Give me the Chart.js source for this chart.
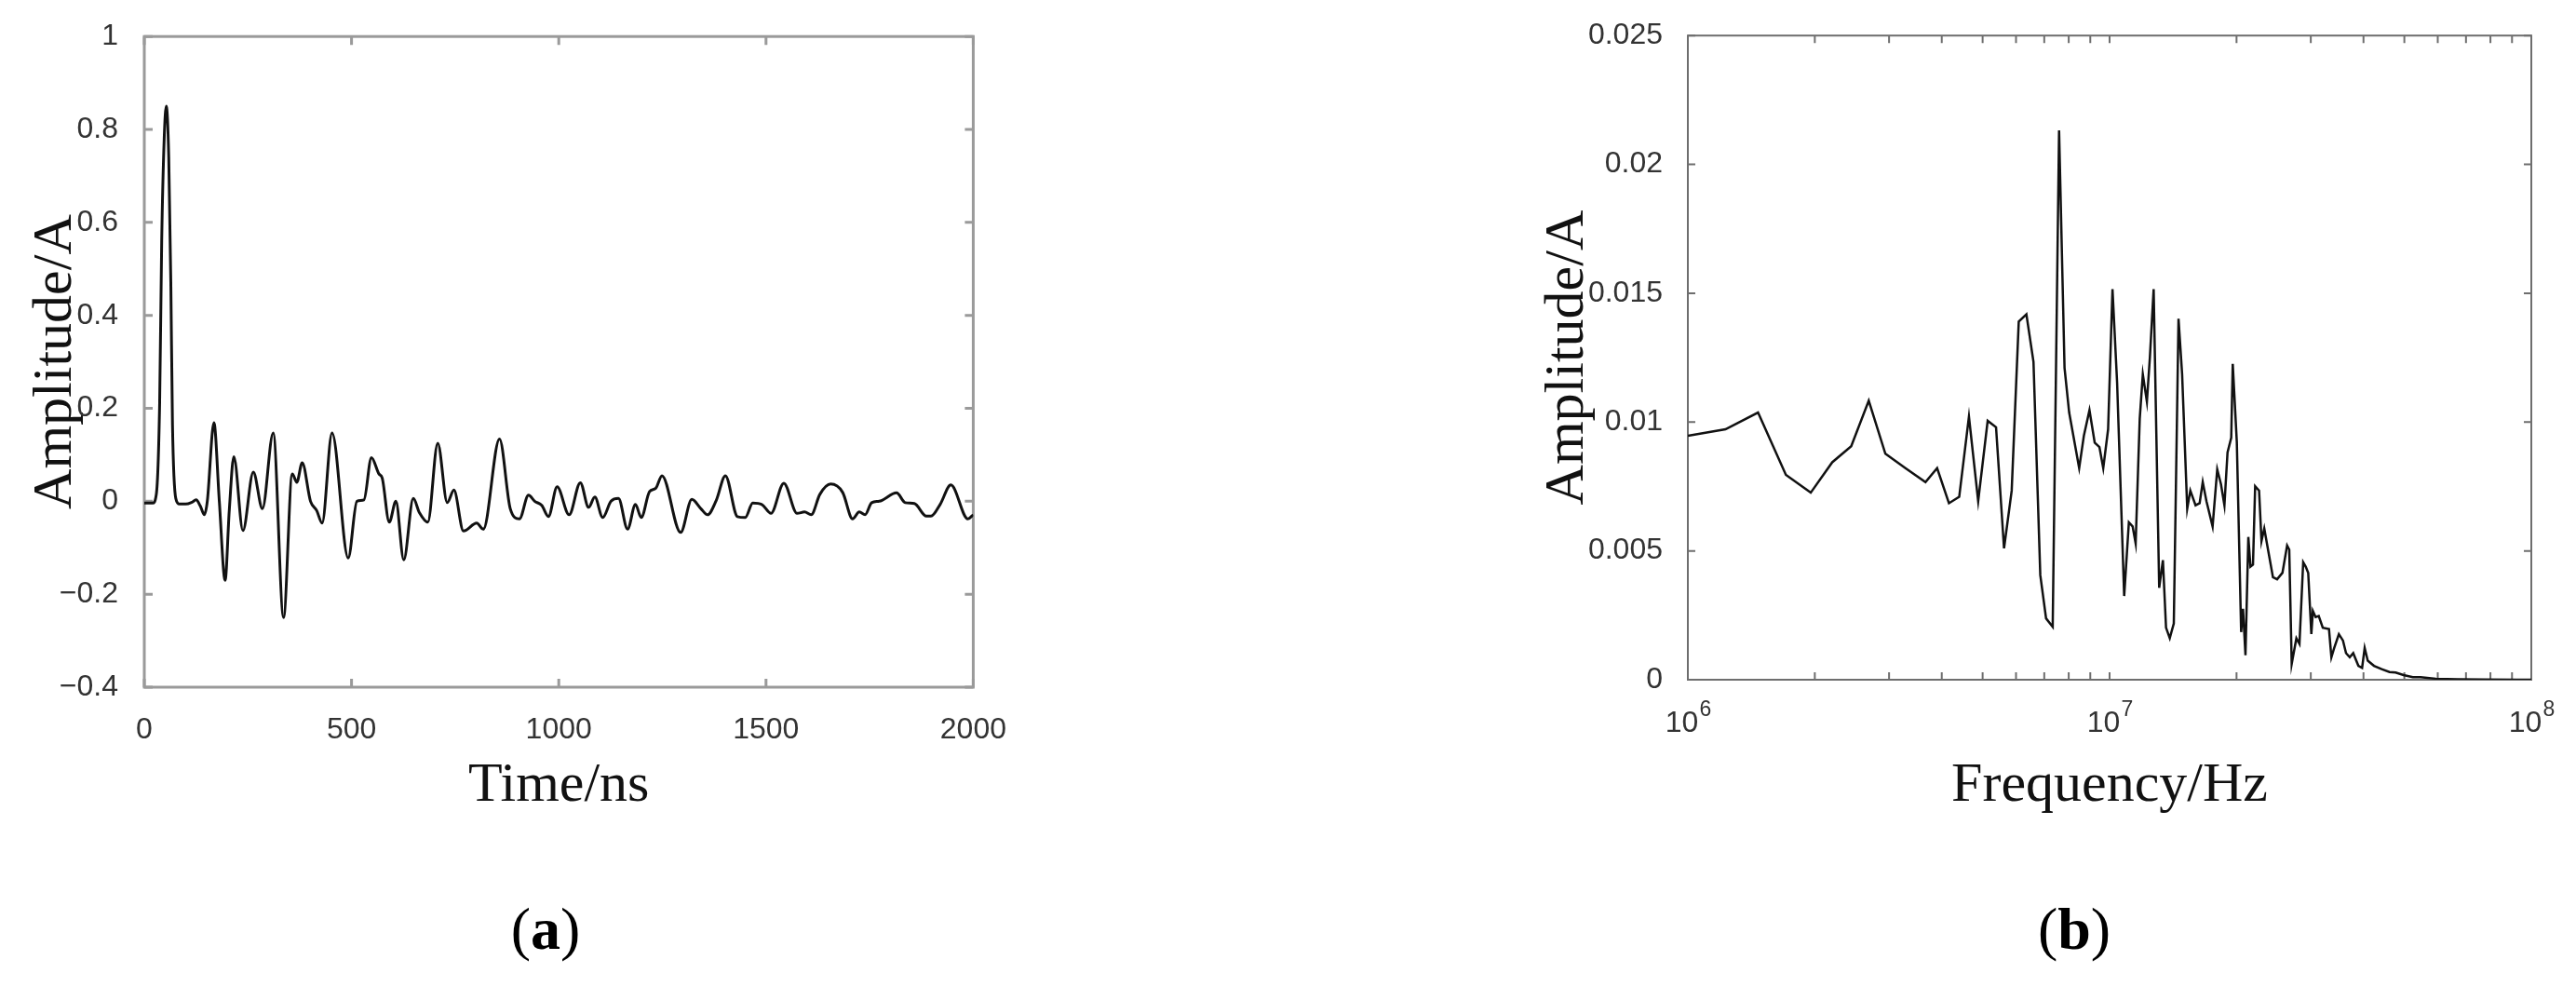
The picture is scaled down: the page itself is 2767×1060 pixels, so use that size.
<!DOCTYPE html>
<html>
<head>
<meta charset="utf-8">
<title>Current waveform and spectrum</title>
<script src="https://cdn.jsdelivr.net/npm/chart.js@4.4.1/dist/chart.umd.min.js"></script>
<style>
    html, body { margin: 0; padding: 0; background: #fff; }
    body { width: 2767px; height: 1060px; position: relative; overflow: hidden; }
    .panel { position: absolute; top: 0; height: 900px; }
    #panelA { left: 0; width: 1100px; }
    #panelB { left: 1560px; width: 1207px; }
    .caption {
        position: absolute; top: 966px; line-height: 1;
        font-family: 'Liberation Serif', serif; font-size: 64px; color: #000;
        transform: translateX(-50%); white-space: nowrap;
    }
</style>
</head>
<body>
<div class="panel" id="panelA"><canvas id="timeChart"></canvas></div>
<div class="panel" id="panelB"><canvas id="freqChart"></canvas></div>
<div class="caption" style="left:586px">(<b>a</b>)</div>
<div class="caption" style="left:2228px">(<b>b</b>)</div>

<script>
// (a) time domain
var timeNs = [0, 20, 29, 37, 42, 48, 53, 59, 64, 68, 76, 85, 100, 115, 125, 135, 145, 152, 168, 181,
    195, 205, 216, 238, 263, 285, 311, 336, 357, 368, 381, 401, 416, 429, 453, 492, 513, 530, 548, 566,
    574, 591, 607, 626, 649, 664, 684, 708, 731, 747, 770, 802, 818, 857, 883, 905, 927, 942, 959, 975,
    996, 1025, 1052, 1072, 1087, 1106, 1126, 1144, 1166, 1185, 1199, 1219, 1234, 1249, 1294, 1321, 1343, 1359, 1380, 1402,
    1431, 1450, 1468, 1490, 1512, 1543, 1575, 1593, 1609, 1630, 1656, 1685, 1709, 1725, 1739, 1755, 1773, 1815, 1836, 1858,
    1887, 1898, 1920, 1946, 1987, 2000];
var currentA = [-0.004, -0.004, 0.015, 0.21, 0.56, 0.78, 0.85, 0.74, 0.47, 0.165, 0.006, -0.006, -0.006, -0.002, 0.003, -0.01, -0.029, 0.0, 0.169, 0.0,
    -0.17, -0.02, 0.096, -0.063, 0.063, -0.016, 0.147, -0.25, 0.059, 0.041, 0.083, 0.0, -0.02, -0.047, 0.147, -0.122, 0.0, 0.003, 0.094, 0.059,
    0.05, -0.045, 0.0, -0.126, 0.006, -0.025, -0.045, 0.125, -0.003, 0.024, -0.064, -0.047, -0.06, 0.134, -0.016, -0.038, 0.013, 0.0, -0.009, -0.033,
    0.031, -0.029, 0.04, -0.013, 0.009, -0.035, 0.0, 0.006, -0.06, -0.007, -0.035, 0.021, 0.028, 0.055, -0.067, 0.004, -0.016, -0.029, 0.002, 0.055,
    -0.033, -0.035, -0.004, -0.007, -0.026, 0.039, -0.026, -0.023, -0.029, 0.015, 0.037, 0.019, -0.038, -0.023, -0.029, -0.003, 0.0, 0.018, -0.003, -0.005,
    -0.032, -0.032, -0.007, 0.035, -0.038, -0.029];

// (b) spectrum, frequency in MHz
var freqMHz = [1.0, 1.228, 1.467, 1.708, 1.956, 2.2, 2.44, 2.685, 2.94, 3.28, 3.66, 3.9, 4.16, 4.4, 4.64, 4.88, 5.14, 5.38, 5.62, 5.86,
    6.09, 6.35, 6.6, 6.85, 7.07, 7.33, 7.59, 7.82, 8.02, 8.47, 8.69, 8.96, 9.22, 9.46, 9.66, 9.92, 10.16, 10.42, 10.83, 11.11,
    11.34, 11.53, 11.79, 11.99, 12.26, 12.46, 12.72, 13.11, 13.38, 13.61, 13.89, 14.2, 14.57, 14.86, 15.28, 15.54, 15.99, 16.35, 16.63, 16.97,
    17.55, 18.0, 18.37, 18.72, 19.04, 19.43, 19.59, 20.03, 20.51, 20.72, 21.0, 21.33, 21.58, 21.88, 22.14, 22.62, 22.92, 23.27, 23.8, 24.4,
    24.96, 25.7, 26.36, 26.67, 27.03, 27.73, 28.2, 28.78, 29.18, 29.58, 30.09, 30.34, 30.8, 31.33, 32.03, 33.13, 33.57, 34.09, 34.97, 35.76,
    36.37, 37.11, 37.82, 38.9, 39.7, 40.26, 40.94, 42.36, 44.18, 46.1, 47.68, 49.77, 52.36, 54.6, 59.4, 66.9, 76.6, 92.3, 100];
var spectrumA = [0.00947, 0.00972, 0.01037, 0.00795, 0.00726, 0.00844, 0.00906, 0.01083, 0.00877, 0.00821, 0.00767, 0.00821, 0.00685, 0.0071, 0.01021, 0.00693, 0.01005, 0.0098, 0.0051, 0.00734,
    0.0139, 0.01418, 0.01234, 0.00406, 0.00238, 0.00205, 0.02132, 0.0121, 0.01037, 0.00821, 0.00947, 0.01046, 0.0092, 0.00903, 0.00821, 0.00972, 0.01516, 0.01152, 0.00325, 0.00611,
    0.00595, 0.00529, 0.01013, 0.01185, 0.01079, 0.0125, 0.01516, 0.00357, 0.00464, 0.00202, 0.00161, 0.00218, 0.01401, 0.01185, 0.00664, 0.00734, 0.00677, 0.00685, 0.00767, 0.00693,
    0.00595, 0.00816, 0.00759, 0.00677, 0.00882, 0.00939, 0.01226, 0.00923, 0.00185, 0.00275, 0.00095, 0.00554, 0.00439, 0.00447, 0.00751, 0.00734, 0.00538, 0.00587, 0.00497, 0.00398,
    0.0039, 0.00415, 0.00521, 0.00505, 0.00062, 0.00161, 0.00139, 0.00456, 0.00439, 0.00415, 0.00177, 0.00267, 0.00243, 0.00247, 0.00202, 0.00197, 0.00087, 0.00123, 0.00177, 0.00152,
    0.00103, 0.00087, 0.00103, 0.00054, 0.00046, 0.00123, 0.00074, 0.00054, 0.00041, 0.0003, 0.00028, 0.00018, 0.0001, 0.0001, 0.00004, 0.00002, 0.00001, 0, 0];

// decade ticks of the log axis: base and exponent drawn as "10" + superscript
var freqDecades = [1e6, 1e7, 1e8];
var freqTickExps = ['6', '7', '8'];

var tickFont = { family: "'Liberation Sans', Arial, sans-serif", size: 32 };
var titleFont = { family: "'Liberation Serif', 'Times New Roman', serif", size: 60 };

// MATLAB-like box with inward tick marks
var boxTicks = {
    id: 'boxTicks',
    beforeDatasetsDraw: function (chart, args, opts) {
        var ctx = chart.ctx, a = chart.chartArea;
        var xs = chart.scales.x, ys = chart.scales.y, len = opts.length;
        ctx.save();
        ctx.strokeStyle = opts.color;
        ctx.lineWidth = opts.width;
        ctx.beginPath();
        xs.ticks.forEach(function (t) {
            var px = xs.getPixelForValue(t.value);
            ctx.moveTo(px, a.bottom); ctx.lineTo(px, a.bottom - len);
            ctx.moveTo(px, a.top); ctx.lineTo(px, a.top + len);
        });
        ys.ticks.forEach(function (t) {
            var py = ys.getPixelForValue(t.value);
            ctx.moveTo(a.left, py); ctx.lineTo(a.left + len, py);
            ctx.moveTo(a.right, py); ctx.lineTo(a.right - len, py);
        });
        ctx.stroke();
        ctx.strokeRect(a.left, a.top, a.right - a.left, a.bottom - a.top);
        ctx.restore();
    }
};

// power-of-ten labels under the log axis
var powerLabels = {
    id: 'powerLabels',
    afterDraw: function (chart) {
        var ctx = chart.ctx, xs = chart.scales.x, a = chart.chartArea;
        var baseFont = tickFont.size + 'px ' + tickFont.family;
        var expFont = '23px ' + tickFont.family;
        ctx.save();
        ctx.fillStyle = '#333';
        ctx.textBaseline = 'alphabetic';
        ctx.textAlign = 'left';
        freqDecades.forEach(function (d, i) {
            var px = xs.getPixelForValue(d);
            ctx.font = baseFont;
            var w1 = ctx.measureText('10').width;
            ctx.font = expFont;
            var w2 = ctx.measureText(freqTickExps[i]).width;
            var x0 = px - (w1 + w2) / 2;
            ctx.font = baseFont;
            ctx.fillText('10', x0, a.bottom + 56);
            ctx.font = expFont;
            ctx.fillText(freqTickExps[i], x0 + w1 + 1, a.bottom + 39);
        });
        ctx.restore();
    }
};

function minusSign(v, digits) {
    var s = String(Number(v.toFixed(digits)));
    return s.replace('-', '\u2212');
}

document.addEventListener('DOMContentLoaded', function () {
    // Time domain chart
    var ctxTime = document.getElementById('timeChart').getContext('2d');
    new Chart(ctxTime, {
        type: 'line',
        data: {
            datasets: [{
                data: timeNs.map(function (t, i) { return { x: t, y: currentA[i] }; }),
                borderColor: '#111',
                borderWidth: 3,
                pointRadius: 0,
                fill: false,
                cubicInterpolationMode: 'monotone'
            }]
        },
        options: {
            responsive: true,
            maintainAspectRatio: false,
            animation: false,
            layout: { padding: { top: 29, right: 39, left: 0, bottom: 0 } },
            plugins: {
                legend: { display: false },
                tooltip: { enabled: false },
                boxTicks: { color: '#9a9a9a', width: 3, length: 9 }
            },
            scales: {
                x: {
                    type: 'linear', min: 0, max: 2000,
                    grid: { display: false }, border: { display: false },
                    ticks: {
                        stepSize: 500, font: tickFont, color: '#333', padding: 19, maxRotation: 0,
                        callback: function (v) { return String(v); }
                    },
                    title: { display: true, text: 'Time/ns', font: titleFont, color: '#111', padding: { top: 0, bottom: 20 } },
                    afterFit: function (scale) { scale.height = 162; }
                },
                y: {
                    min: -0.4, max: 1,
                    grid: { display: false }, border: { display: false },
                    ticks: {
                        stepSize: 0.2, font: tickFont, color: '#333', padding: 20,
                        callback: function (v) { return minusSign(v, 1); }
                    },
                    title: { display: true, text: 'Amplitude/A', font: titleFont, color: '#111', padding: { top: 24, bottom: 0 } },
                    afterFit: function (scale) { scale.width = 155; }
                }
            }
        },
        plugins: [boxTicks]
    });

    // Spectrum chart
    var ctxFreq = document.getElementById('freqChart').getContext('2d');
    new Chart(ctxFreq, {
        type: 'line',
        data: {
            datasets: [{
                data: freqMHz.map(function (f, i) { return { x: f * 1e6, y: spectrumA[i] }; }),
                borderColor: '#111',
                borderWidth: 2.5,
                pointRadius: 0,
                fill: false,
                tension: 0
            }]
        },
        options: {
            responsive: true,
            maintainAspectRatio: false,
            animation: false,
            layout: { padding: { top: 29, right: 48, left: 0, bottom: 0 } },
            plugins: {
                legend: { display: false },
                tooltip: { enabled: false },
                boxTicks: { color: '#6e6e6e', width: 2, length: 8 }
            },
            scales: {
                x: {
                    type: 'logarithmic', min: 1e6, max: 1e8,
                    grid: { display: false }, border: { display: false },
                    afterBuildTicks: function (scale) {
                        var ticks = [];
                        freqDecades.forEach(function (d, k) {
                            if (k === freqDecades.length - 1) { ticks.push({ value: d }); return; }
                            for (var m = 1; m < 10; m++) ticks.push({ value: d * m });
                        });
                        scale.ticks = ticks;
                    },
                    ticks: {
                        font: tickFont, color: '#333', padding: 24, autoSkip: false, maxRotation: 0,
                        callback: function () { return ''; }
                    },
                    title: { display: true, text: 'Frequency/Hz', font: titleFont, color: '#111', padding: { top: 0, bottom: 20 } },
                    afterFit: function (scale) { scale.height = 170; }
                },
                y: {
                    min: 0, max: 0.025,
                    grid: { display: false }, border: { display: false },
                    ticks: {
                        stepSize: 0.005, font: tickFont, color: '#333', padding: 19,
                        callback: function (v) { return minusSign(v, 3); }
                    },
                    title: { display: true, text: 'Amplitude/A', font: titleFont, color: '#111', padding: { top: 88, bottom: 0 } },
                    afterFit: function (scale) { scale.width = 253; }
                }
            }
        },
        plugins: [boxTicks, powerLabels]
    });
});
</script>
</body>
</html>
